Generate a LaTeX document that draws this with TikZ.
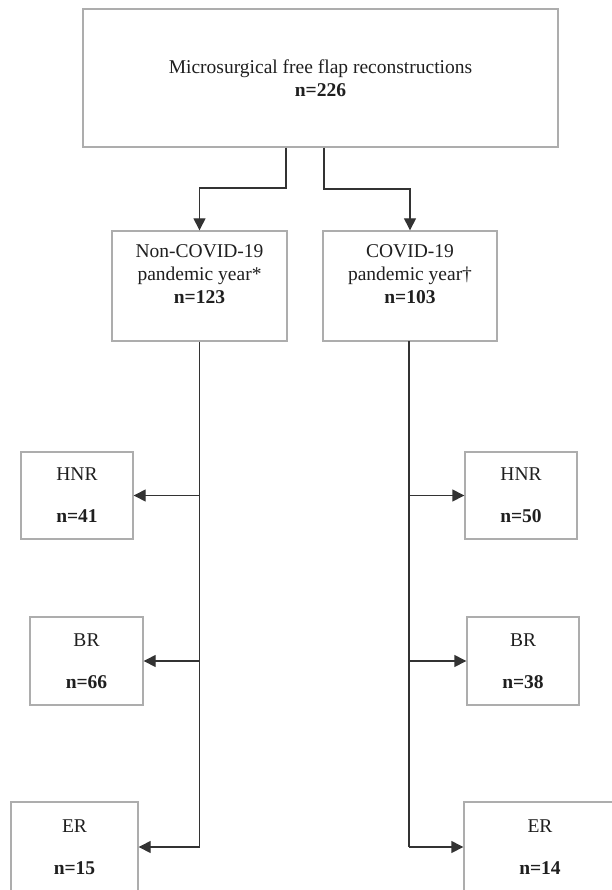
\documentclass[tikz,border=0pt]{standalone}
\usepackage{fontspec}
\setmainfont{Liberation Serif}
\usetikzlibrary{arrows.meta}
\begin{document}
\begin{tikzpicture}[x=1pt,y=-1pt,
  box/.style={draw=black!32, line width=1.4pt, rectangle, inner sep=0pt, align=center,
    font=\fontsize{19.5}{23}\selectfont, text=black!88},
  conn/.style={draw=black!80, line width=1.4pt, -{Triangle[length=12pt,width=12pt]}},
  trunk/.style={draw=black!80, line width=1.5pt}]
\useasboundingbox (0,0) rectangle (612,890);
\clip (0,0) rectangle (612,890);
\fill[white] (0,0) rectangle (612,890);

\node[box, minimum width=475pt, minimum height=138pt] (top) at (320.5,78)
  {Microsurgical free flap reconstructions\\\textbf{n=226}};
\node[box, minimum width=175pt, minimum height=110pt] (nc) at (199.5,286)
  {Non-COVID-19\\pandemic year*\\\textbf{n=123}\\[-6pt]\strut};
\node[box, minimum width=174pt, minimum height=110pt] (c) at (410,286)
  {COVID-19\\pandemic year†\\\textbf{n=103}\\[-6pt]\strut};

\node[box, minimum width=112pt, minimum height=87pt] (hl) at (77,495.5)
  {HNR\\[19pt]\textbf{n=41}};
\node[box, minimum width=112pt, minimum height=87pt] (hr) at (521,495.5)
  {HNR\\[19pt]\textbf{n=50}};
\node[box, minimum width=113pt, minimum height=88pt] (bl) at (86.5,661)
  {BR\\[19pt]\textbf{n=66}};
\node[box, minimum width=112pt, minimum height=88pt] (br) at (523,661)
  {BR\\[19pt]\textbf{n=38}};
\node[box, minimum width=127pt, minimum height=90pt] (el) at (74.5,847)
  {ER\\[19pt]\textbf{n=15}};
\node[box, minimum width=152pt, minimum height=90pt] (er) at (540,847)
  {ER\\[19pt]\textbf{n=14}};

\coordinate (tl) at (286,188);
\coordinate (tr) at (324,189);
\draw[conn] (top.south -| tl) -- (tl) -| (nc.north);
\draw[conn] (top.south -| tr) -- (tr) -| (c.north);

\draw[trunk] (nc.south) -- (nc.south |- el.east);
\draw[conn] (nc.south |- hl.east) -- (hl.east);
\draw[conn] (nc.south |- bl.east) -- (bl.east);
\draw[conn] (nc.south |- el.east) -- (el.east);

\coordinate (rt) at (409,341);
\draw[trunk] (rt) -- (rt |- er.west);
\draw[conn] (rt |- hr.west) -- (hr.west);
\draw[conn] (rt |- br.west) -- (br.west);
\draw[conn] (rt |- er.west) -- (er.west);
\end{tikzpicture}
\end{document}
